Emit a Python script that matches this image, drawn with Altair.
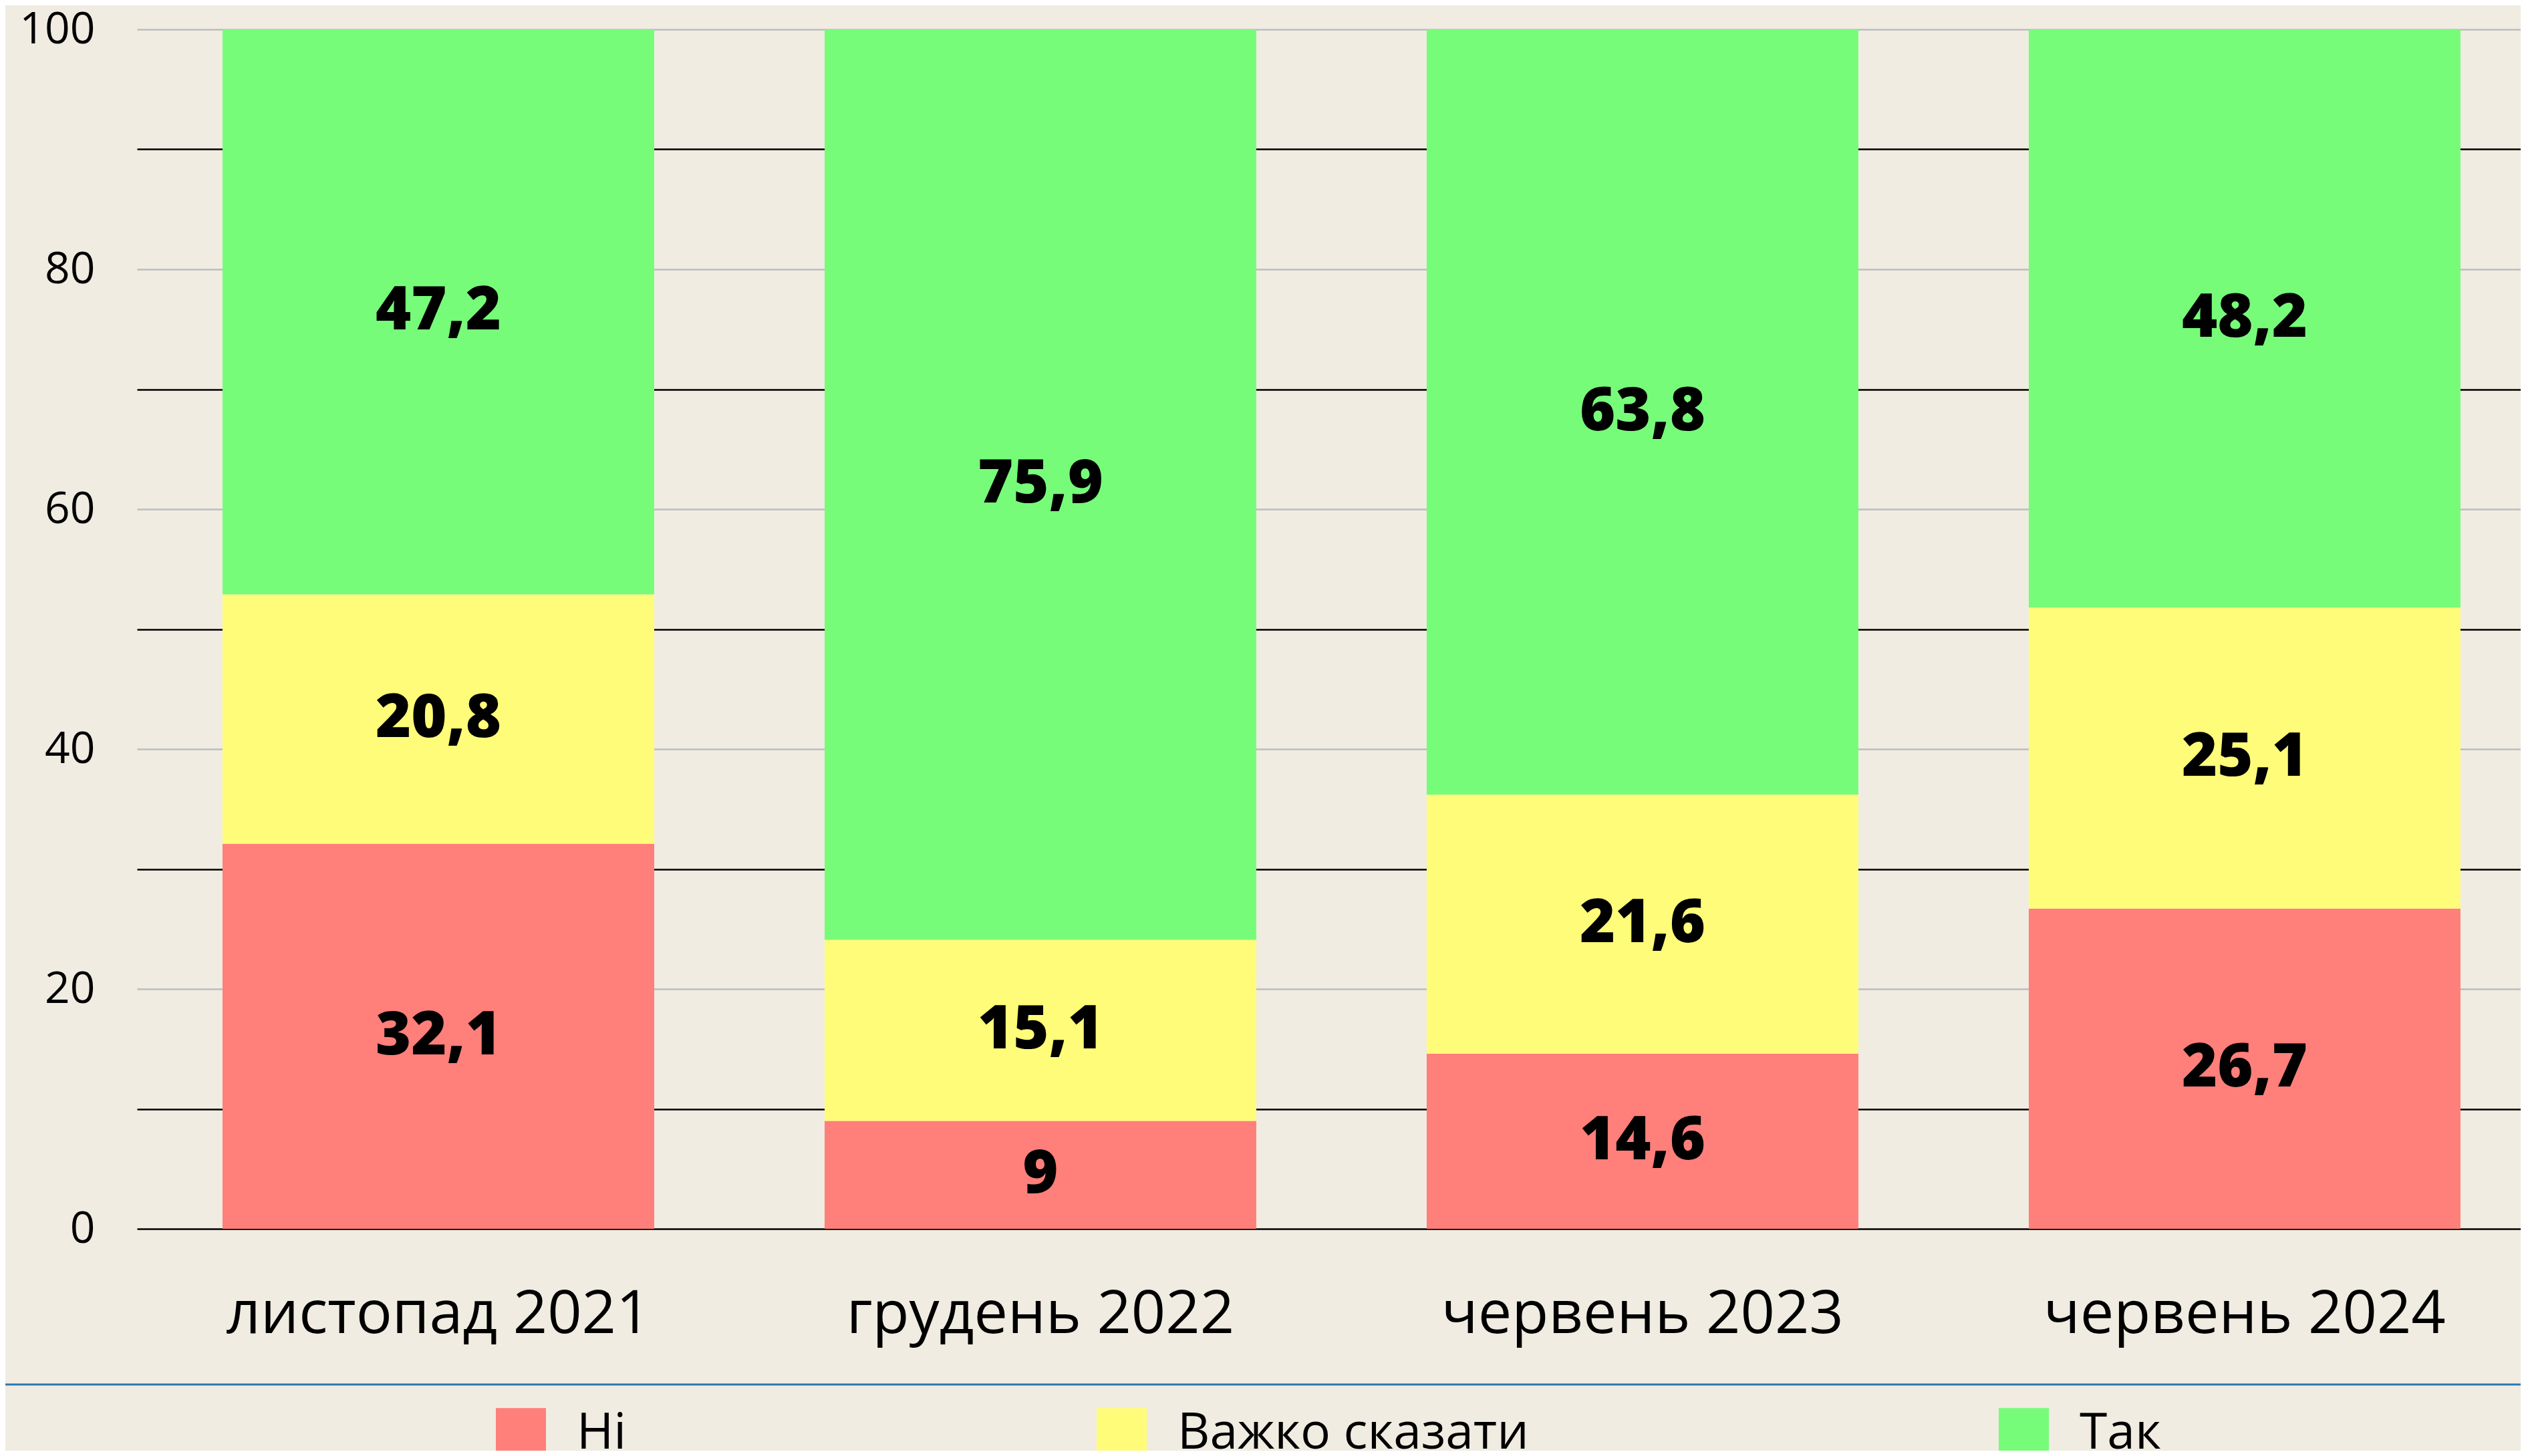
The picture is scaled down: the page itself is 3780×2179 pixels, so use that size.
import altair as alt
import pandas as pd

periods = ["листопад 2021", "грудень 2022", "червень 2023", "червень 2024"]
answers = ["Ні", "Важко сказати", "Так"]
ni = [32.1, 9.0, 14.6, 26.7]
vazhko = [20.8, 15.1, 21.6, 25.1]
tak = [47.2, 75.9, 63.8, 48.2]
colors = ["#FF7F7A", "#FFFC7A", "#77FC7A"]
y_ticks = [0, 10, 20, 30, 40, 50, 60, 70, 80, 90, 100]

rows = []
for i, p in enumerate(periods):
    for j, (a, vals) in enumerate(zip(answers, [ni, vazhko, tak])):
        v = vals[i]
        rows.append({"period": p, "answer": a, "order": j, "value": v,
                     "label": f"{v:g}".replace(".", ",")})
df = pd.DataFrame(rows)

FONT = "Open Sans"
BOLD = "Open Sans"

W = 3567
H = 1795

base = alt.Chart(df).transform_stack(
    stack="value", groupby=["period"],
    sort=[alt.SortField("order", order="ascending")],
    as_=["y0", "y1"],
).transform_calculate(ymid="(datum.y0 + datum.y1) / 2")

x_enc = alt.X(
    "period:N", sort=periods,
    scale=alt.Scale(paddingInner=0.283, paddingOuter=0.121, align=0.587),
    axis=alt.Axis(title=None, labelAngle=0, labelFontSize=90, labelFont=FONT,
                  labelColor="#000000", labelPadding=155, labelBaseline="alphabetic",
                  labelLimit=0, ticks=False, tickSize=0, domain=False, grid=False),
)

y_scale = alt.Scale(domain=[0, 100], nice=False)

bars = base.mark_bar(clip=True).encode(
    x=x_enc,
    y=alt.Y("y0:Q", scale=y_scale,
            axis=alt.Axis(title=None, values=y_ticks,
                          labelExpr="datum.value % 20 == 0 ? datum.label : ''",
                          labelFontSize=66, labelFont=FONT, labelColor="#000000",
                          labelPadding=63, ticks=False, tickSize=0, domain=False,
                          gridColor={"condition": {"test": "datum.value % 20 == 0 && datum.value > 0",
                                                   "value": "#BDBDBD"},
                                     "value": "#000000"},
                          gridWidth=2.5, gridOpacity=1)),
    y2="y1:Q",
    color=alt.Color("answer:N", sort=answers,
                    scale=alt.Scale(domain=answers, range=colors),
                    legend=alt.Legend(orient="none", legendX=537, legendY=2063,
                                      direction="horizontal", title=None,
                                      symbolType="square", symbolSize=5625,
                                      symbolStrokeWidth=0, symbolOpacity=1,
                                      labelFontSize=75, labelFont=FONT,
                                      labelColor="#000000", labelOffset=46,
                                      labelLimit=0, columnPadding=703, padding=0)),
    order=alt.Order("order:Q"),
)

texts = base.mark_text(fontSize=91, font=BOLD, fontWeight=800, color="#000000",
                       baseline="middle", align="center").encode(
    x=alt.X("period:N", sort=periods),
    y=alt.Y("ymid:Q", scale=y_scale),
    text="label:N",
)

sep = alt.Chart(pd.DataFrame({"k": [0]})).mark_rule(color="#2A7AB0", strokeWidth=3).encode(
    x=alt.value(-205), x2=alt.value(3700), y=alt.value(2028),
)

chart = alt.layer(bars, texts, sep).properties(
    width=W, height=H,
    autosize=alt.AutoSizeParams(type="none"),
    padding={"left": 197, "top": 36, "right": 0, "bottom": 332},
    background="#F0ECE2",
).configure_view(stroke=None)

chart.save("out.html", embed_options={"renderer": "svg", "actions": False})
